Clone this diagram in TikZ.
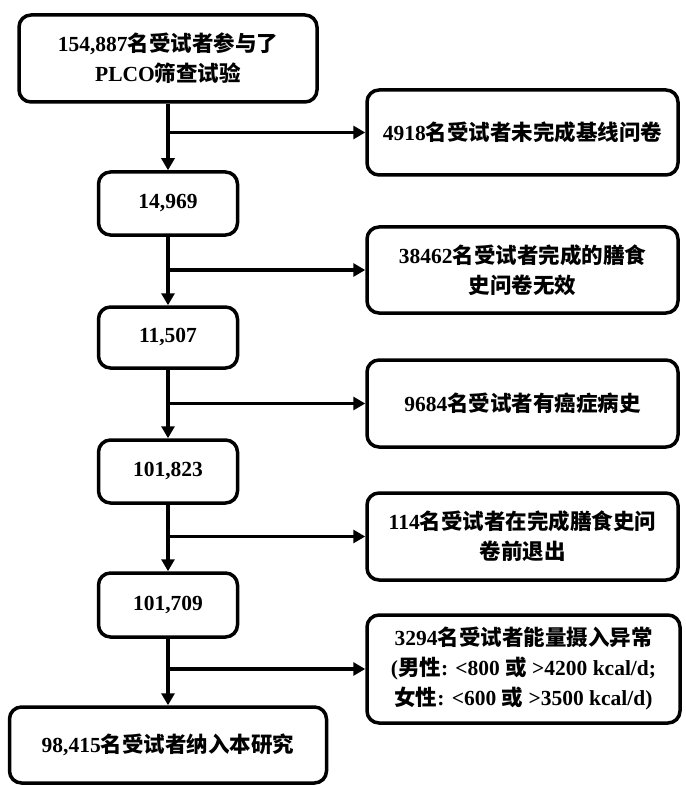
\documentclass[tikz,border=0pt]{standalone}
\usepackage{fontspec}
\setmainfont{Liberation Serif}
\newfontfamily\cjkfont{Noto Sans CJK SC}
\newcommand\zh[1]{{\cjkfont #1}}
\usetikzlibrary{arrows.meta}
\begin{document}
\begin{tikzpicture}[x=1pt,y=-1pt,
  box/.style={draw=black, line width=3.5pt, rounded corners=12pt, align=center,
    inner sep=0pt, font=\bfseries\fontsize{21.5}{30}\selectfont},
  arr/.style={line width=3.5pt, -{Triangle[length=12pt,width=13pt]}}]
\useasboundingbox (0,0) rectangle (685,786);
\node[box, minimum width=298pt, minimum height=87pt] (top) at (168,58.5)
  {154,887\zh{名受试者参与了}\\PLCO\zh{筛查试验}};
\node[box, minimum width=139pt, minimum height=63pt] (n1) at (168,203.5) {14,969};
\node[box, minimum width=139pt, minimum height=61pt] (n2) at (168,337.5) {11,507};
\node[box, minimum width=139pt, minimum height=63pt] (n3) at (168,471.5) {101,823};
\node[box, minimum width=139pt, minimum height=64pt] (n4) at (168,605) {101,709};
\node[box, minimum width=317pt, minimum height=76pt] (fin) at (168,745)
  {98,415\zh{名受试者纳入本研究}};
\node[box, minimum width=311pt, minimum height=85pt] (r1) at (522.5,132.5)
  {4918\zh{名受试者未完成基线问卷}};
\node[box, minimum width=311pt, minimum height=86pt] (r2) at (522.5,270)
  {38462\zh{名受试者完成的膳食}\\\zh{史问卷无效}};
\node[box, minimum width=311pt, minimum height=87pt] (r3) at (522.5,403.5)
  {9684\zh{名受试者有癌症病史}};
\node[box, minimum width=311pt, minimum height=87pt] (r4) at (522.5,536.5)
  {114\zh{名受试者在完成膳食史问}\\\zh{卷前退出}};
\node[box, minimum width=313pt, minimum height=108pt] (r5) at (523.5,669)
  {3294\zh{名受试者能量摄入异常}\\(\zh{男性}: <800 \zh{或} >4200 kcal/d;\\\zh{女性}: <600 \zh{或} >3500 kcal/d)};
\draw[arr] (top) -- (n1);
\draw[arr] (n1) -- (n2);
\draw[arr] (n2) -- (n3);
\draw[arr] (n3) -- (n4);
\draw[arr] (n4) -- (fin);
\draw[arr] (top.south |- r1.west) -- (r1.west);
\draw[arr] (n1.south |- r2.west) -- (r2.west);
\draw[arr] (n2.south |- r3.west) -- (r3.west);
\draw[arr] (n3.south |- r4.west) -- (r4.west);
\draw[arr] (n4.south |- r5.west) -- (r5.west);
\end{tikzpicture}
\end{document}
